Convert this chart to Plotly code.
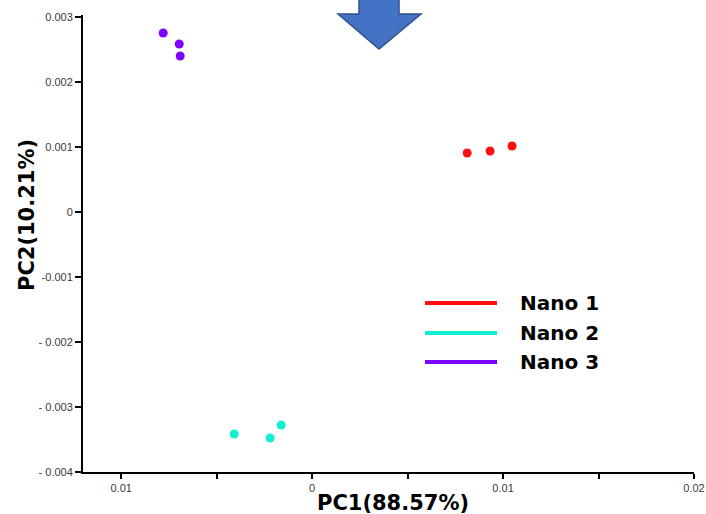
import plotly.graph_objects as go

# PCA scores for the three nano samples (three replicates each)
groups = ["Nano 1", "Nano 2", "Nano 3"]
colors = ["#FF1010", "#12F0D4", "#8000FF"]
pc1 = [
    [0.00812, 0.00932, 0.01047],
    [-0.00408, -0.00220, -0.00162],
    [-0.00780, -0.00696, -0.00691],
]
pc2 = [
    [0.000908, 0.000938, 0.001015],
    [-0.003415, -0.003477, -0.003277],
    [0.002754, 0.002585, 0.002400],
]

x_tickvals = [-0.01, -0.005, 0, 0.005, 0.01, 0.015, 0.02]
x_ticktext = ["0.01", "", "0", "", "0.01", "", "0.02"]
y_tickvals = [0.003, 0.002, 0.001, 0, -0.001, -0.002, -0.003, -0.004]
y_ticktext = ["0.003", "0.002", "0.001", "0", "-0.001", "- 0.002", "- 0.003", "- 0.004"]

W, H = 706, 514
ML, MR, MT, MB = 83, 12, 15, 42
PW, PH = W - ML - MR, H - MT - MB


def px(xp):
    return (xp - ML) / PW


def py(yp):
    return (H - MB - yp) / PH


fig = go.Figure()
for name, col, xs, ys in zip(groups, colors, pc1, pc2):
    fig.add_trace(go.Scatter(
        x=xs, y=ys, mode="markers", name=name,
        marker=dict(color=col, size=9, line=dict(width=0)),
        showlegend=False,
    ))

# legend: coloured strokes with bold labels
leg_y = [303, 333, 362]
for name, col, ly in zip(groups, colors, leg_y):
    fig.add_shape(type="line", xref="paper", yref="paper",
                  x0=px(425), x1=px(497), y0=py(ly), y1=py(ly),
                  line=dict(color=col, width=4))
    fig.add_annotation(xref="paper", yref="paper", x=px(518), y=py(ly),
                       text=name, showarrow=False, xanchor="left", yanchor="middle",
                       font=dict(family="DejaVu Sans", size=20, color="black", weight="bold"))

# block arrow at the top
ax = [359, 399, 399, 421, 379, 338, 359, 359]
ay = [-3, -3, 14, 14, 49, 14, 14, -3]
path = "M " + " L ".join(f"{px(a):.5f},{py(b):.5f}" for a, b in zip(ax, ay)) + " Z"
fig.add_shape(type="path", xref="paper", yref="paper", path=path,
              fillcolor="#4472C4", line=dict(color="#2F528F", width=1.5))

# axis titles
fig.add_annotation(xref="paper", yref="paper", x=px(393), y=py(503),
                   text="PC1(88.57%)", showarrow=False, xanchor="center", yanchor="middle",
                   font=dict(family="DejaVu Sans", size=21, color="black", weight="bold"))
fig.add_annotation(xref="paper", yref="paper", x=px(27), y=py(215),
                   text="PC2(10.21%)", showarrow=False, textangle=-90,
                   xanchor="center", yanchor="middle",
                   font=dict(family="DejaVu Sans", size=21, color="black", weight="bold"))

tick_font = dict(family="Liberation Sans", size=11, color="#3a3a3a")
fig.update_layout(
    width=W, height=H, autosize=False,
    margin=dict(l=ML, r=MR, t=MT, b=MB),
    paper_bgcolor="white", plot_bgcolor="white",
    xaxis=dict(range=[-0.012, 0.02], tickvals=x_tickvals, ticktext=x_ticktext,
               automargin=False,
               showgrid=False, zeroline=False, showline=True, linecolor="black",
               linewidth=2, ticks="outside", ticklen=5, tickwidth=2, tickcolor="black",
               tickfont=tick_font),
    yaxis=dict(range=[-0.004, -0.004 + PH / 65000], tickvals=y_tickvals, ticktext=y_ticktext,
               automargin=False,
               showgrid=False, zeroline=False, showline=True, linecolor="black",
               linewidth=2, ticks="outside", ticklen=6, tickwidth=2, tickcolor="black",
               tickfont=tick_font),
)

fig.write_html("out.html", config={"responsive": False})
